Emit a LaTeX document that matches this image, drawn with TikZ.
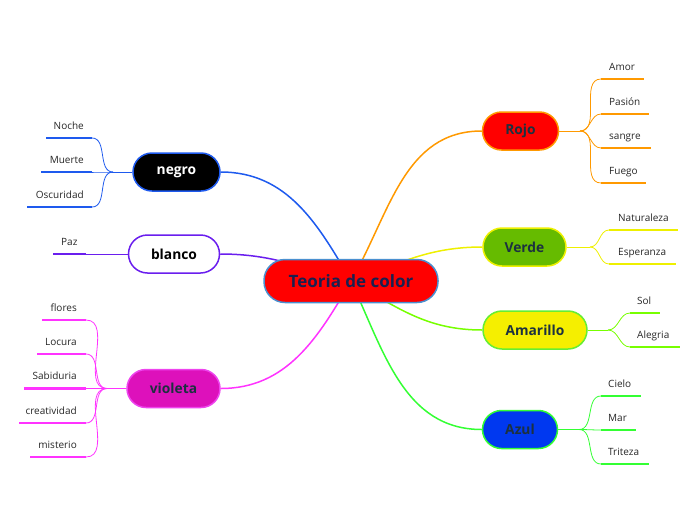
\documentclass[tikz,border=0pt]{standalone}
\usepackage{fontspec}
\setmainfont{Open Sans}
\usetikzlibrary{backgrounds}
\definecolor{ctext}{HTML}{1A2050}
\definecolor{ntext}{HTML}{1C3140}
\definecolor{cborder}{HTML}{4A90D0}
\definecolor{corange}{HTML}{FF9900}
\definecolor{cyellowl}{HTML}{EEF000}
\definecolor{cverde}{HTML}{66BB00}
\definecolor{camar}{HTML}{F5EF00}
\definecolor{camarl}{HTML}{77FF00}
\definecolor{camarb}{HTML}{66EE33}
\definecolor{cazul}{HTML}{0038F0}
\definecolor{cazull}{HTML}{33FF33}
\definecolor{cnegrol}{HTML}{1E5AEE}
\definecolor{cblancol}{HTML}{6A1EEE}
\definecolor{cviol}{HTML}{DD11BB}
\definecolor{cviolb}{HTML}{EE44EE}
\definecolor{cviold}{HTML}{FF33FF}
\begin{document}
\begin{tikzpicture}[x=1pt,y=-1pt,
  hub/.style={draw, line width=1.5pt, rounded corners=19pt, minimum height=38pt,
    inner sep=0pt, font=\bfseries\fontsize{13.8}{15}\selectfont, text=ntext},
  leafr/.style={anchor=base west, inner sep=0pt, font=\fontsize{10}{12}\selectfont, text=black!85},
  leafl/.style={anchor=base east, inner sep=0pt, font=\fontsize{10}{12}\selectfont, text=black!85},
  link/.style={line width=0.8pt},
  mainlink/.style={line width=1.5pt},
  uline/.style={line width=2.6pt}]
\useasboundingbox (0,0) rectangle (696,520);

% central node
\node[hub, fill=red, draw=cborder, minimum width=174pt, minimum height=43pt,
  rounded corners=21pt, text=ctext, font=\bfseries\fontsize{17}{19}\selectfont] (c) at (351,281) {Teoria de color};

% hubs
\node[hub, fill=red, draw=corange, minimum width=76pt] (rojo) at (520.5,131) {Rojo};
\node[hub, fill=cverde, draw=cyellowl, minimum width=83pt] (verde) at (524.5,247) {Verde};
\node[hub, fill=camar, draw=camarb, minimum width=104pt] (amar) at (535,330) {Amarillo};
\node[hub, fill=cazul, draw=cazull, minimum width=75pt] (azul) at (520,429.5) {Azul};
\node[hub, fill=black, draw=cnegrol, minimum width=87pt, text=white] (negro) at (176.5,172) {negro};
\node[hub, fill=white, draw=cblancol, minimum width=91pt, text=black] (blanco) at (174,254) {blanco};
\node[hub, fill=cviol, draw=cviolb, minimum width=93pt] (viol) at (173.5,388.5) {violeta};

% junctions
\coordinate (jr) at (580,131);
\coordinate (jv) at (590,247);
\coordinate (ja) at (608,330);
\coordinate (jz) at (579,429.5);
\coordinate (jn) at (113,172);
\coordinate (jo) at (107,388.5);

% underline endpoints (s = inner start, e = outer end)
\coordinate (amor-s) at (601,79);   \coordinate (amor-e) at (644,79);
\coordinate (pas-s) at (601,114);   \coordinate (pas-e) at (649,114);
\coordinate (san-s) at (601,148);   \coordinate (san-e) at (651,148);
\coordinate (fue-s) at (601,183);   \coordinate (fue-e) at (646,183);
\coordinate (nat-s) at (609,230);   \coordinate (nat-e) at (678,230);
\coordinate (esp-s) at (609,264);   \coordinate (esp-e) at (676,264);
\coordinate (sol-s) at (630,313);   \coordinate (sol-e) at (660,313);
\coordinate (ale-s) at (630,347);   \coordinate (ale-e) at (680,347);
\coordinate (cie-s) at (601,396);   \coordinate (cie-e) at (641,396);
\coordinate (mar-s) at (601,430);   \coordinate (mar-e) at (636,430);
\coordinate (tri-s) at (601,464);   \coordinate (tri-e) at (649,464);
\coordinate (noc-s) at (92,138);    \coordinate (noc-e) at (46,138);
\coordinate (mue-s) at (92,172);    \coordinate (mue-e) at (41,172);
\coordinate (osc-s) at (92,207);    \coordinate (osc-e) at (27,207);
\coordinate (paz-s) at (86,254);    \coordinate (paz-e) at (53,254);
\coordinate (flo-s) at (86,320);    \coordinate (flo-e) at (42,320);
\coordinate (loc-s) at (86,354);    \coordinate (loc-e) at (37,354);
\coordinate (sab-s) at (86,388.5);  \coordinate (sab-e) at (24,388.5);
\coordinate (cre-s) at (86,423);    \coordinate (cre-e) at (19,423);
\coordinate (mis-s) at (86,457);    \coordinate (mis-e) at (30,457);

% leaf texts
\node[leafr] (amor) at (609,70) {Amor};
\node[leafr] (pas) at (609,105) {Pasión};
\node[leafr] (san) at (609,139) {sangre};
\node[leafr] (fue) at (609,174) {Fuego};
\node[leafr] (nat) at (618,221) {Naturaleza};
\node[leafr] (esp) at (618,255) {Esperanza};
\node[leafr] (sol) at (637,304) {Sol};
\node[leafr] (ale) at (637,338) {Alegria};
\node[leafr] (cie) at (608,387) {Cielo};
\node[leafr] (mar) at (608,421) {Mar};
\node[leafr] (tri) at (608,455) {Triteza};
\node[leafl] (noc) at (84,129) {Noche};
\node[leafl] (mue) at (84,163) {Muerte};
\node[leafl] (osc) at (84,198) {Oscuridad};
\node[leafr] (paz) at (61,245) {Paz};
\node[leafl] (flo) at (77,311) {flores};
\node[leafl] (loc) at (77,345) {Locura};
\node[leafl] (sab) at (77,379.5) {Sabiduria};
\node[leafl] (cre) at (77,414) {creatividad};
\node[leafl] (mis) at (77,448) {misterio};

\begin{scope}[on background layer]
% main connectors
\draw[mainlink, corange] (c.center) to[out=60, in=180] (rojo.west);
\draw[mainlink, cyellowl] (c.center) to[out=20, in=180] (verde.west);
\draw[mainlink, camarl] (c.center) to[out=-30, in=180] (amar.west);
\draw[mainlink, cazull] (c.center) to[out=-65, in=180] (azul.west);
\draw[mainlink, cnegrol] (negro.east) to[out=0, in=120] (c.center);
\draw[mainlink, cblancol] (blanco.east) to[out=0, in=165] (c.center);
\draw[mainlink, cviold] (viol.east) to[out=0, in=-120] (c.center);

% Rojo branch
\draw[link, corange] (rojo.east) -- (jr);
\foreach \l in {amor,pas,san,fue} {
  \draw[link, corange] (jr) to[out=0, in=180] (\l-s);
  \draw[uline, corange] (\l-s) -- (\l-e);
}
% Verde branch
\draw[link, cyellowl] (verde.east) -- (jv);
\foreach \l in {nat,esp} {
  \draw[link, cyellowl] (jv) to[out=0, in=180] (\l-s);
  \draw[uline, cyellowl] (\l-s) -- (\l-e);
}
% Amarillo branch
\draw[link, camarl] (amar.east) -- (ja);
\foreach \l in {sol,ale} {
  \draw[link, camarl] (ja) to[out=0, in=180] (\l-s);
  \draw[uline, camarl] (\l-s) -- (\l-e);
}
% Azul branch
\draw[link, cazull] (azul.east) -- (jz);
\foreach \l in {cie,mar,tri} {
  \draw[link, cazull] (jz) to[out=0, in=180] (\l-s);
  \draw[uline, cazull] (\l-s) -- (\l-e);
}
% negro branch
\draw[link, cnegrol] (negro.west) -- (jn);
\foreach \l in {noc,mue,osc} {
  \draw[link, cnegrol] (jn) to[out=180, in=0] (\l-s);
  \draw[uline, cnegrol] (\l-s) -- (\l-e);
}
% blanco branch
\draw[link, cblancol] (blanco.west) -- (paz-s);
\draw[uline, cblancol] (paz-s) -- (paz-e);
% violeta branch
\draw[link, cviold] (viol.west) -- (jo);
\foreach \l in {flo,loc,sab,cre,mis} {
  \draw[link, cviold] (jo) to[out=180, in=0] (\l-s);
  \draw[uline, cviold] (\l-s) -- (\l-e);
}
\end{scope}
\end{tikzpicture}
\end{document}
